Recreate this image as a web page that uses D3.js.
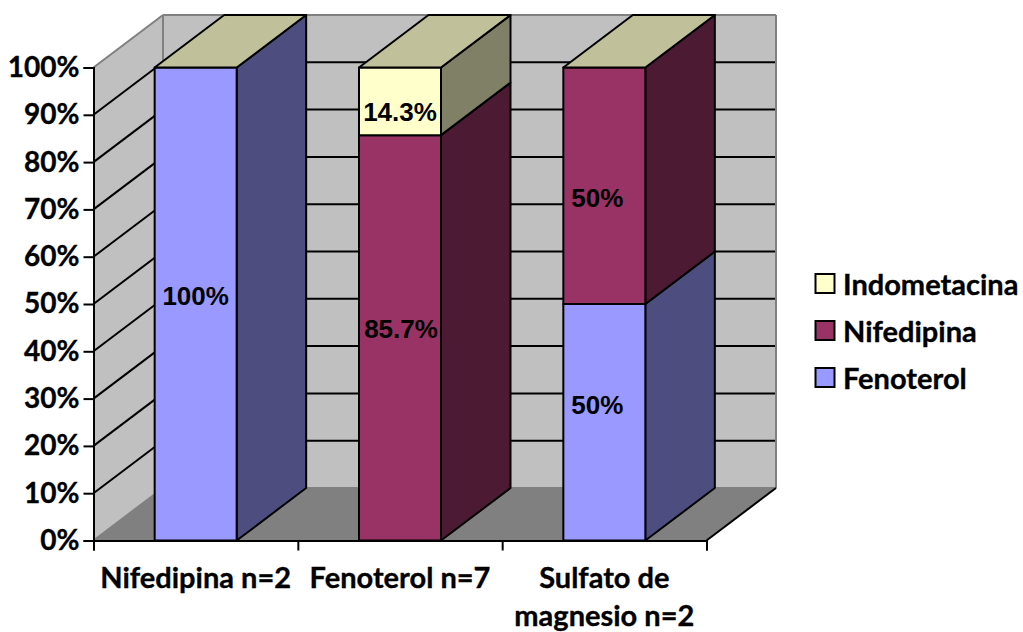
<!DOCTYPE html>
<html>
<head>
<meta charset="utf-8">
<script src="https://cdn.jsdelivr.net/npm/d3@7/dist/d3.min.js"></script>
<style>
html,body{margin:0;padding:0;background:#fff}
svg{display:block}
.cat,.tick text,.leg{font-family:Lato,"Open Sans",sans-serif;font-weight:700;fill:#000;stroke:#000;stroke-width:0.35px}
.val{font-family:"Liberation Sans",Arial,sans-serif;font-weight:700;fill:#000}
</style>
</head>
<body>
<svg id="chart" width="1023" height="632"></svg>
<script>
// Stacked percentage shares per treatment group
const categories = [["Nifedipina n=2"], ["Fenoterol n=7"], ["Sulfato de", "magnesio n=2"]];
const seriesNames = ["Fenoterol", "Nifedipina", "Indometacina"];
const fenoterol = [100, 0, 50];
const nifedipina = [0, 85.7, 50];
const indometacina = [0, 14.3, 0];
const valueLabels = [["100%", "", "50%"], ["", "85.7%", "50%"], ["", "14.3%", ""]];
const yTicks = [0, 10, 20, 30, 40, 50, 60, 70, 80, 90, 100];

const faceColors = ["#9999FF", "#993366", "#FFFFCC"];
const sideColors = ["#4D4D80", "#4D1A33", "#808066"];
const topColor = "#C0C09A";
const wallColor = "#C0C0C0";
const floorColor = "#808080";
const edgeColor = "#808080";

// Oblique projection of the chart box: depth shifts everything right and up
const depth = { x: 69.5, y: -52.5 };
const y = d3.scaleLinear().domain([0, 100]).range([540.5, 67.5]);
const xCat = d3.scaleLinear().domain([0, 3]).range([93.5, 706.5]);
const barWidth = 82;
const barLeft = i => xCat(i + 0.5) - barWidth / 2;

const svg = d3.select("#chart");
const poly = (pts, fill, stroke, sw) => svg.append("polygon")
  .attr("points", pts.map(p => p.join(",")).join(" "))
  .attr("fill", fill)
  .attr("stroke", stroke || "none")
  .attr("stroke-width", sw || 0)
  .attr("stroke-linejoin", "round");
const seg = (x1, y1, x2, y2, stroke, sw) => svg.append("line")
  .attr("x1", x1).attr("y1", y1).attr("x2", x2).attr("y2", y2)
  .attr("stroke", stroke).attr("stroke-width", sw);

const x0 = xCat(0), x1 = xCat(3), y0 = y(0), y1 = y(100);

// Back wall, side wall and floor
poly([[x0 + depth.x, y1 + depth.y], [x1 + depth.x, y1 + depth.y], [x1 + depth.x, y0 + depth.y], [x0 + depth.x, y0 + depth.y]], wallColor);
poly([[x0, y1], [x0 + depth.x, y1 + depth.y], [x0 + depth.x, y0 + depth.y], [x0, y0]], wallColor);
poly([[x0, y0], [x0 + depth.x, y0 + depth.y], [x1 + depth.x, y0 + depth.y], [x1, y0]], floorColor);

// Gridlines run along the side wall and across the back wall
yTicks.filter(t => t > 0 && t < 100).forEach(t => {
  seg(x0, y(t), x0 + depth.x, y(t) + depth.y, "#000", 2);
  seg(x0 + depth.x, y(t) + depth.y, x1 + depth.x, y(t) + depth.y, "#000", 2);
});

// Box edges
[[x0, y1, x0 + depth.x, y1 + depth.y],
 [x0 + depth.x, y1 + depth.y, x1 + depth.x, y1 + depth.y],
 [x0 + depth.x, y1 + depth.y, x0 + depth.x, y0 + depth.y],
 [x1 + depth.x, y1 + depth.y, x1 + depth.x, y0 + depth.y],
 [x0 + depth.x, y0 + depth.y, x1 + depth.x, y0 + depth.y],
 [x0, y0, x0 + depth.x, y0 + depth.y]].forEach(e => seg(e[0], e[1], e[2], e[3], edgeColor, 2));
seg(x1, y0, x1 + depth.x, y0 + depth.y, "#000", 2);

// Stacked bars with their side and top faces
const stack = d3.stack().keys([0, 1, 2]).value((row, k) => row[k]);
const rows = categories.map((c, i) => [fenoterol[i], nifedipina[i], indometacina[i]]);
const layers = stack(rows);

categories.forEach((c, i) => {
  const l = barLeft(i), r = l + barWidth;
  layers.forEach((layer, k) => {
    const [a, b] = layer[i];
    if (b <= a) return;
    poly([[r, y(b)], [r + depth.x, y(b) + depth.y], [r + depth.x, y(a) + depth.y], [r, y(a)]], sideColors[k], "#000", 2);
    poly([[l, y(b)], [r, y(b)], [r, y(a)], [l, y(a)]], faceColors[k], "#000", 2);
  });
  const t = y(100);
  poly([[l, t], [l + depth.x, t + depth.y], [r + depth.x, t + depth.y], [r, t]], topColor, "#000", 2);
});

// Value labels sit slightly away from the segment centres
const labelNudge = [[[0, -7], [0, 0], [-7, -17]], [[0, 0], [1, -8], [-7, 13]], [[0, 0], [0, 11], [0, 0]]];
layers.forEach((layer, k) => {
  categories.forEach((c, i) => {
    if (!valueLabels[k][i]) return;
    const [a, b] = layer[i];
    svg.append("text").attr("class", "val")
      .attr("x", barLeft(i) + barWidth / 2 + labelNudge[k][i][0])
      .attr("y", y((a + b) / 2) + labelNudge[k][i][1])
      .attr("dy", "0.32em")
      .attr("text-anchor", "middle")
      .attr("font-size", 26)
      .text(valueLabels[k][i]);
  });
});

// Axes
const yAxis = d3.axisLeft(y).tickValues(yTicks).tickSize(10).tickPadding(4).tickFormat(d => d + "%");
svg.append("g").attr("transform", `translate(${x0},0)`).call(yAxis)
  .call(g => g.select(".domain").attr("stroke", "#000").attr("stroke-width", 2))
  .call(g => g.selectAll(".tick line").attr("stroke", "#000").attr("stroke-width", 2))
  .call(g => g.selectAll("text").attr("font-size", 28).attr("font-family", null));

const xAxis = d3.axisBottom(xCat).tickValues([0, 1, 2, 3]).tickSize(10).tickFormat("");
svg.append("g").attr("transform", `translate(0,${y0})`).call(xAxis)
  .call(g => g.select(".domain").attr("stroke", "#000").attr("stroke-width", 2))
  .call(g => g.selectAll(".tick line").attr("stroke", "#000").attr("stroke-width", 2));

// Category labels
categories.forEach((lines, i) => {
  lines.forEach((line, j) => {
    svg.append("text").attr("class", "cat")
      .attr("x", xCat(i + 0.5))
      .attr("y", 588 + j * 37.5)
      .attr("text-anchor", "middle")
      .attr("font-size", 29)
      .text(line);
  });
});

// Legend, listed top-down in reverse stacking order
const legendOrder = [2, 1, 0];
const legendY = d3.scalePoint().domain(legendOrder).range([284, 378]);
legendOrder.forEach(k => {
  svg.append("rect")
    .attr("x", 815.5).attr("y", legendY(k) - 10)
    .attr("width", 19).attr("height", 19)
    .attr("fill", faceColors[k]).attr("stroke", "#000").attr("stroke-width", 2);
  svg.append("text").attr("class", "leg")
    .attr("x", 843).attr("y", legendY(k) + 11)
    .attr("font-size", 29)
    .text(seriesNames[k]);
});
</script>
</body>
</html>
